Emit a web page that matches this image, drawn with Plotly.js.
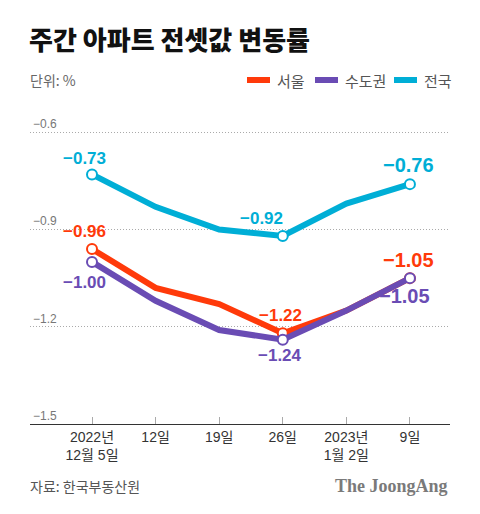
<!DOCTYPE html>
<html>
<head>
<meta charset="utf-8">
<script src="https://cdn.plot.ly/plotly-3.0.1.min.js"></script>
<style>
html,body{margin:0;padding:0;background:#fff;}
#chart{width:480px;height:514px;}
</style>
</head>
<body>
<div id="chart"></div>
<script>
// ---- data ----
const categories = ["2022년<br>12월 5일", "12일", "19일", "26일", "2023년<br>1월 2일", "9일"];
const seoul = [-0.96, -1.08, -1.13, -1.22, -1.15, -1.05];
const capital = [-1.00, -1.12, -1.21, -1.24, -1.15, -1.05];
const nation = [-0.73, -0.83, -0.90, -0.92, -0.82, -0.76];
const seriesNames = ["서울", "수도권", "전국"];
const yTicks = [-1.5, -1.2, -0.9, -0.6];
const yTickText = ["−1.5", "−1.2", "−0.9", "−0.6"];
const markedIdx = [0, 3, 5];

// ---- styles ----
const colors = {"서울": "#FF3A0A", "수도권": "#6A4CB4", "전국": "#00AED6"};
const fontLatin = "Liberation Sans, Arial, Noto Sans CJK KR, sans-serif";
const fontKR = "Noto Sans CJK KR, sans-serif";
const xIdx = categories.map((_, i) => i);

function makeTrace(name, vals) {
  return {
    type: "scatter", mode: "lines+markers", name: name,
    x: xIdx, y: vals,
    line: {color: colors[name], width: 6},
    marker: {
      size: 10, color: "#fff",
      line: {color: colors[name], width: 2},
      opacity: vals.map((_, i) => markedIdx.includes(i) ? 1 : 0)
    },
    hoverinfo: "skip", showlegend: false, cliponaxis: false
  };
}

const traces = [
  makeTrace("전국", nation),
  makeTrace("서울", seoul),
  makeTrace("수도권", capital)
];

// label offsets (dx, dy in px) and sizes for marked points
const labelOffsets = {
  "전국":  [[-8, 16], [-21, 18], [-1, 19]],
  "서울":  [[-8, 17], [-2, 18], [-1, 18]],
  "수도권": [[-8, -21], [-3, -16], [-5, -18]]
};
const labelSizes = [17, 17, 20];
const seriesVals = {"서울": seoul, "수도권": capital, "전국": nation};
const fmt = v => v.toFixed(2).replace("-", "−");

const annotations = [];
seriesNames.forEach(name => {
  markedIdx.forEach((idx, k) => {
    const off = labelOffsets[name][k];
    annotations.push({
      x: idx, y: seriesVals[name][idx], xref: "x", yref: "y",
      text: "<b>" + fmt(seriesVals[name][idx]) + "</b>", showarrow: false,
      xshift: off[0], yshift: off[1],
      xanchor: "center", yanchor: "middle",
      font: {family: fontLatin, size: labelSizes[k], color: colors[name]}
    });
  });
});

// title, unit, legend, footer
annotations.push(
  {xref: "paper", yref: "paper", x: -0.007, y: 1.0, xanchor: "left", yanchor: "bottom",
   yshift: 51, text: "주간 아파트 전셋값 변동률", showarrow: false,
   font: {family: fontKR, size: 26, color: "#111", weight: 900}},
  {xref: "paper", yref: "paper", x: -0.005, y: 1.0, xanchor: "left", yanchor: "middle",
   yshift: 30, text: "단위: %", showarrow: false,
   font: {family: fontKR, size: 14, color: "#666"}},
  {xref: "paper", yref: "paper", x: -0.005, y: 0, xanchor: "left", yanchor: "middle",
   yshift: -62, text: "자료: 한국부동산원", showarrow: false,
   font: {family: fontKR, size: 14, color: "#555"}},
  {xref: "paper", yref: "paper", x: 1.0, y: 0, xanchor: "right", yanchor: "middle",
   yshift: -62, text: "<b>The JoongAng</b>", showarrow: false,
   font: {family: "Liberation Serif, DejaVu Serif, serif", size: 18, color: "#7a7a7a"}}
);

const legendX = [247, 315, 394];
const shapes = [];
seriesNames.forEach((name, i) => {
  const x0 = (legendX[i] - 30) / 420;
  const x1 = (legendX[i] + 23 - 30) / 420;
  shapes.push({type: "line", xref: "paper", yref: "paper",
    x0: x0, x1: x1, y0: (514 - 90 - 80) / 314, y1: (514 - 90 - 80) / 314,
    line: {color: colors[name], width: 6}});
  annotations.push({xref: "paper", yref: "paper", x: (legendX[i] + 28 - 30) / 420,
    y: (514 - 90 - 80) / 314, xanchor: "left", yanchor: "middle",
    text: name, showarrow: false,
    font: {family: fontKR, size: 15, color: "#555"}});
});

const layout = {
  width: 480, height: 514,
  margin: {l: 30, r: 30, t: 110, b: 90},
  paper_bgcolor: "#fff", plot_bgcolor: "#fff",
  showlegend: false,
  xaxis: {
    range: [-0.975, 5.63], tickvals: xIdx, ticktext: categories,
    showgrid: false, zeroline: false,
    showline: true, linecolor: "#333", linewidth: 1,
    ticks: "inside", ticklen: 7, tickcolor: "#aaa", tickwidth: 1,
    tickfont: {family: fontLatin, size: 14, color: "#333"},
    fixedrange: true
  },
  yaxis: {
    range: [-1.5, -0.5313], tickvals: yTicks, ticktext: yTickText,
    ticklabelposition: "inside top",
    showgrid: true, gridcolor: "#aaa", gridwidth: 1, griddash: "1px,2px",
    zeroline: false, showline: false, ticks: "",
    tickfont: {family: fontLatin, size: 12, color: "#777"},
    fixedrange: true
  },
  annotations: annotations,
  shapes: shapes
};

Plotly.newPlot("chart", traces, layout, {displayModeBar: false, staticPlot: true});
</script>
</body>
</html>
